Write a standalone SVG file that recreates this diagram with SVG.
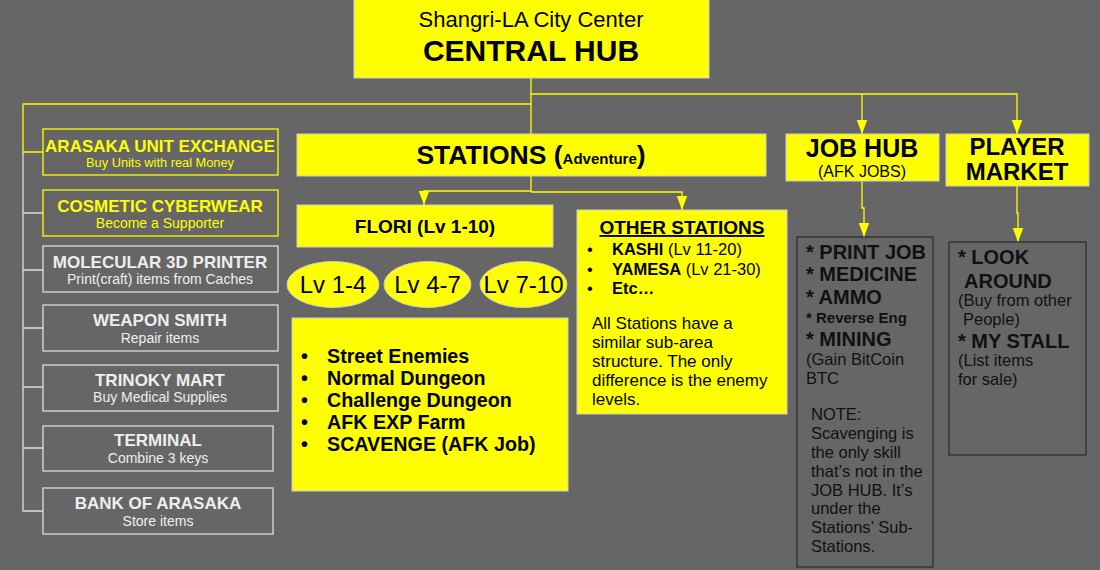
<svg xmlns="http://www.w3.org/2000/svg" width="1100" height="570" viewBox="0 0 1100 570">
<defs>
<marker id="arr" markerUnits="userSpaceOnUse" markerWidth="14" markerHeight="18" refX="16" refY="6" orient="auto" viewBox="0 0 16 12">
<path d="M0,0 L16,6 L0,12 Z" fill="#ffff00"/>
</marker>
<style>
text{font-family:"Liberation Sans",Arial,sans-serif;}
.ybox{fill:#ffff00;stroke:#cccccc;stroke-width:1;}
.yl{fill:none;stroke:#ffff00;stroke-width:1.3;}
.wl{fill:none;stroke:#dddddd;stroke-width:1.3;}
.lbY{fill:none;stroke:#ffff00;stroke-width:1.3;}
.lbW{fill:none;stroke:#dddddd;stroke-width:1.3;}
.tY{fill:#ffff00;text-anchor:middle;}
.tW{fill:#eeeeee;text-anchor:middle;}
.t1{font-size:17px;font-weight:bold;}
.t2{font-size:14px;}
.dk{fill:#000;}
.b{font-weight:bold;}
.list{fill:none;stroke:#2a2a2a;stroke-width:1.2;}
.lt{fill:#111111;}
</style>
</defs>
<rect width="1100" height="570" fill="#666666"/>

<g id="connectors">
<path class="yl" d="M531,78 V94 H1017 V134" marker-end="url(#arr)"/>
<path class="yl" d="M862,94 V134" marker-end="url(#arr)"/>
<path class="yl" d="M531,94 V134"/>
<path class="yl" d="M531,104 H23 V152 H43"/>
<path class="wl" d="M23,152 V511 H43 M23,213 H43 M23,270 H43 M23,328 H43 M23,387 H43 M23,448 H43"/>
<path class="yl" d="M531,176 V191 H424 V205" marker-end="url(#arr)"/>
<path class="yl" d="M531,192 H682 V210" marker-end="url(#arr)"/>
<path class="yl" d="M862,181 V208 H864 V237" marker-end="url(#arr)"/>
<path class="yl" d="M1017,186 V213 H1018 V242" marker-end="url(#arr)"/>
</g>

<g id="central-hub">
<rect class="ybox" x="354" y="-1" width="355" height="79"/>
<text x="531" y="27" text-anchor="middle" font-size="22" class="dk">Shangri-LA City Center</text>
<text x="531" y="61" text-anchor="middle" font-size="30" font-weight="bold" class="dk">CENTRAL HUB</text>
</g>

<g id="arasaka-unit-exchange">
<rect class="lbY" x="43" y="129" width="235" height="46"/>
<text class="tY t1" x="160" y="152">ARASAKA UNIT EXCHANGE</text>
<text class="tY" font-size="12.8" x="160" y="167">Buy Units with real Money</text>
</g>
<g id="cosmetic-cyberwear">
<rect class="lbY" x="43" y="190" width="235" height="46"/>
<text class="tY t1" x="160" y="212">COSMETIC CYBERWEAR</text>
<text class="tY t2" x="160" y="228">Become a Supporter</text>
</g>
<g id="molecular-3d-printer">
<rect class="lbW" x="43" y="246" width="235" height="46"/>
<text class="tW t1" x="160" y="268">MOLECULAR 3D PRINTER</text>
<text class="tW t2" x="160" y="284">Print(craft) items from Caches</text>
</g>
<g id="weapon-smith">
<rect class="lbW" x="43" y="305" width="235" height="46"/>
<text class="tW t1" x="160" y="326">WEAPON SMITH</text>
<text class="tW t2" x="160" y="343">Repair items</text>
</g>
<g id="trinoky-mart">
<rect class="lbW" x="43" y="365" width="235" height="46"/>
<text class="tW t1" x="160" y="386">TRINOKY MART</text>
<text class="tW t2" x="160" y="402">Buy Medical Supplies</text>
</g>
<g id="terminal">
<rect class="lbW" x="43" y="426" width="230" height="45"/>
<text class="tW t1" x="158" y="446">TERMINAL</text>
<text class="tW t2" x="158" y="463">Combine 3 keys</text>
</g>
<g id="bank-of-arasaka">
<rect class="lbW" x="43" y="488" width="230" height="46"/>
<text class="tW t1" x="158" y="509">BANK OF ARASAKA</text>
<text class="tW t2" x="158" y="526">Store items</text>
</g>

<g id="stations">
<rect class="ybox" x="297" y="134" width="469" height="42"/>
<text x="531" y="164" text-anchor="middle" class="dk b" font-size="26.5">STATIONS (<tspan font-size="15">Adventure</tspan>)</text>
</g>

<g id="flori">
<rect class="ybox" x="297" y="205" width="256" height="42"/>
<text x="425" y="233" text-anchor="middle" class="dk b" font-size="19">FLORI (Lv 1-10)</text>
</g>

<g id="lv-1-4">
<ellipse cx="333" cy="284.5" rx="46" ry="23" class="ybox"/>
<text x="333" y="293" text-anchor="middle" font-size="24" class="dk">Lv 1-4</text>
</g>
<g id="lv-4-7">
<ellipse cx="427.5" cy="284.5" rx="43.5" ry="23" class="ybox"/>
<text x="427.5" y="293" text-anchor="middle" font-size="24" class="dk">Lv 4-7</text>
</g>
<g id="lv-7-10">
<ellipse cx="523.5" cy="284.5" rx="43.5" ry="23" class="ybox"/>
<text x="523.5" y="293" text-anchor="middle" font-size="24" class="dk">Lv 7-10</text>
</g>

<g id="flori-areas">
<rect class="ybox" x="292" y="318" width="276" height="173"/>
<g class="dk b" font-size="19.7">
<text x="301" y="363">•</text><text x="327" y="363">Street Enemies</text>
<text x="301" y="385">•</text><text x="327" y="385">Normal Dungeon</text>
<text x="301" y="407">•</text><text x="327" y="407">Challenge Dungeon</text>
<text x="301" y="429">•</text><text x="327" y="429">AFK EXP Farm</text>
<text x="301" y="451">•</text><text x="327" y="451">SCAVENGE (AFK Job)</text>
</g>
</g>

<g id="other-stations">
<rect class="ybox" x="577" y="210" width="210" height="204"/>
<text x="682" y="234" text-anchor="middle" class="dk b" font-size="19" text-decoration="underline">OTHER STATIONS</text>
<g class="dk" font-size="16.5">
<text x="587" y="255">•</text><text x="612" y="255"><tspan font-weight="bold">KASHI</tspan> (Lv 11-20)</text>
<text x="587" y="275">•</text><text x="612" y="275"><tspan font-weight="bold">YAMESA</tspan> (Lv 21-30)</text>
<text x="587" y="294">•</text><text x="612" y="294" font-weight="bold">Etc…</text>
</g>
<g class="dk" font-size="17">
<text x="592" y="329">All Stations have a</text>
<text x="592" y="348">similar sub-area</text>
<text x="592" y="367">structure. The only</text>
<text x="592" y="386">difference is the enemy</text>
<text x="592" y="405">levels.</text>
</g>
</g>

<g id="job-hub">
<rect class="ybox" x="786" y="134" width="153" height="47"/>
<text x="862" y="157" text-anchor="middle" class="dk b" font-size="25">JOB HUB</text>
<text x="862" y="177" text-anchor="middle" class="dk" font-size="16">(AFK JOBS)</text>
</g>

<g id="player-market">
<rect class="ybox" x="946" y="134" width="143" height="52"/>
<text x="1017" y="155" text-anchor="middle" class="dk b" font-size="24">PLAYER</text>
<text x="1017" y="180" text-anchor="middle" class="dk b" font-size="24">MARKET</text>
</g>

<g id="job-list">
<rect class="list" x="797" y="237" width="136" height="330"/>
<g class="lt">
<text x="806" y="259" class="b" font-size="20">* PRINT JOB</text>
<text x="806" y="281" class="b" font-size="20">* MEDICINE</text>
<text x="806" y="304" class="b" font-size="20">* AMMO</text>
<text x="806" y="323" class="b" font-size="15">* Reverse Eng</text>
<text x="806" y="346" class="b" font-size="20">* MINING</text>
<text x="806" y="365" font-size="16.5">(Gain BitCoin</text>
<text x="806" y="384" font-size="16.5">BTC</text>
<text x="811" y="420" font-size="16.5">NOTE:</text>
<text x="811" y="439" font-size="16.5">Scavenging is</text>
<text x="811" y="458" font-size="16.5">the only skill</text>
<text x="811" y="477" font-size="16.5">that’s not in the</text>
<text x="811" y="496" font-size="16.5">JOB HUB. It’s</text>
<text x="811" y="514" font-size="16.5">under the</text>
<text x="811" y="533" font-size="16.5">Stations’ Sub-</text>
<text x="811" y="552" font-size="16.5">Stations.</text>
</g>
</g>

<g id="market-list">
<rect class="list" x="949" y="242" width="137" height="213"/>
<g class="lt">
<text x="958" y="264" class="b" font-size="20">* LOOK</text>
<text x="964" y="288" class="b" font-size="20">AROUND</text>
<text x="958" y="306" font-size="16.5">(Buy from other</text>
<text x="963" y="325" font-size="16.5">People)</text>
<text x="958" y="348" class="b" font-size="20">* MY STALL</text>
<text x="958" y="366" font-size="16.5">(List items</text>
<text x="958" y="385" font-size="16.5">for sale)</text>
</g>
</g>
</svg>
